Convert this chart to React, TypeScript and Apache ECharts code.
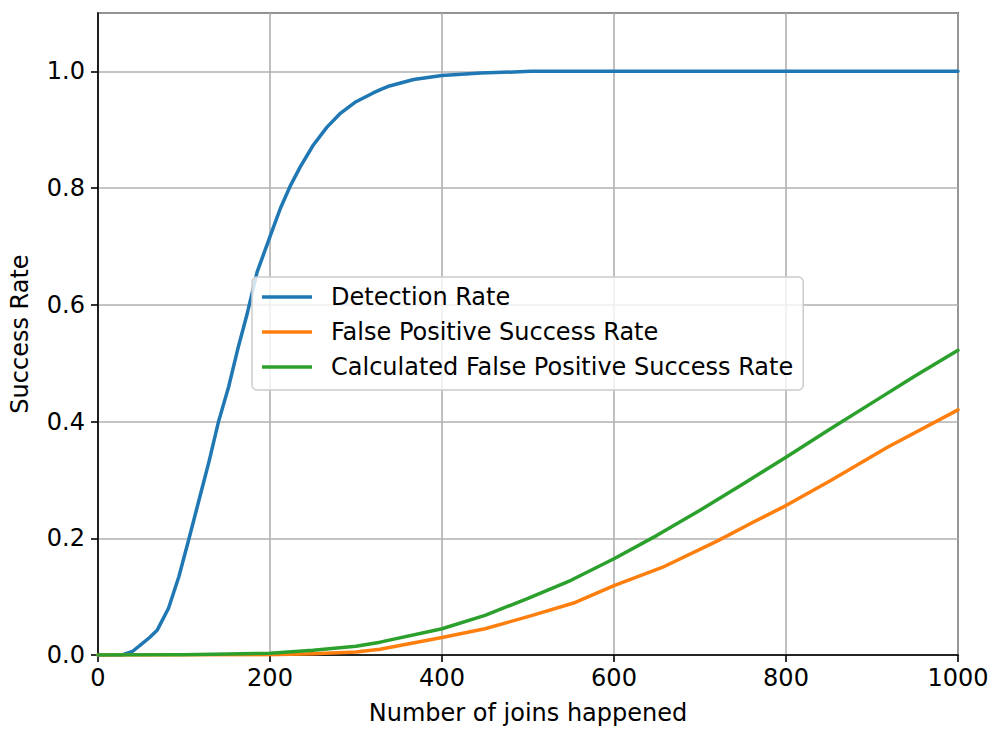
import React, { useEffect, useRef } from "react";
import * as echarts from "echarts";

const detX = [0, 28, 40, 51, 60, 69, 82, 94, 105, 117, 129, 140, 152, 163, 173, 185, 200, 212, 223, 235, 250, 266, 281, 300, 320, 329, 339, 367, 400, 445, 503, 520, 1000];
const detY = [0, 0, 0.006, 0.019, 0.03, 0.043, 0.08, 0.134, 0.195, 0.263, 0.331, 0.399, 0.46, 0.527, 0.582, 0.656, 0.717, 0.765, 0.802, 0.836, 0.873, 0.904, 0.927, 0.948, 0.963, 0.969, 0.975, 0.986, 0.993, 0.997, 1.0, 1.0, 1.0];

const fpX = [0, 200, 250, 300, 328, 400, 450, 503, 555, 600, 656, 721, 765, 800, 852, 918, 1000];
const fpY = [0, 0.0005, 0.002, 0.005, 0.01, 0.03, 0.045, 0.067, 0.09, 0.119, 0.15, 0.196, 0.23, 0.256, 0.299, 0.356, 0.42];

const calcX = [0, 100, 200, 250, 300, 328, 400, 450, 500, 550, 600, 650, 700, 750, 800, 850, 900, 950, 1000];
const calcY = [0, 0.0003, 0.003, 0.008, 0.015, 0.022, 0.045, 0.068, 0.097, 0.128, 0.165, 0.205, 0.248, 0.293, 0.339, 0.386, 0.432, 0.478, 0.522];

const seriesNames = ["Detection Rate", "False Positive Success Rate", "Calculated False Positive Success Rate"];
const colors = ["#1f77b4", "#ff7f0e", "#2ca02c"];

const zip = (xs: number[], ys: number[]) => xs.map((x, i) => [x, ys[i]]);

export default function App() {
  const ref = useRef<HTMLDivElement>(null);
  useEffect(() => {
    if (!ref.current) return;
    const chart = echarts.init(ref.current, null, { renderer: "svg" });
    const font = "DejaVu Sans";
    const fs = 24;
    const datasets = [zip(detX, detY), zip(fpX, fpY), zip(calcX, calcY)];
    chart.setOption({
      animation: false,
      backgroundColor: "#ffffff",
      textStyle: { fontFamily: font },
      grid: {
        left: 97,
        right: 34,
        top: 13,
        bottom: 76,
        show: true,
        borderColor: "#000",
        borderWidth: 1.6,
        backgroundColor: "transparent",
      },
      legend: {
        orient: "vertical",
        left: 252,
        top: 277,
        icon: "rect",
        itemWidth: 50,
        itemHeight: 3.5,
        itemGap: 11,
        padding: [8, 10, 11, 10],
        backgroundColor: "rgba(255,255,255,0.8)",
        borderColor: "#cccccc",
        borderWidth: 1.5,
        borderRadius: 5,
        textStyle: {
          fontFamily: font,
          fontSize: fs,
          color: "#000",
          lineHeight: 24,
          padding: [0, 0, 0, 14],
        },
        data: seriesNames,
      },
      xAxis: {
        type: "value",
        min: 0,
        max: 1000,
        interval: 200,
        name: "Number of joins happened",
        nameLocation: "middle",
        nameGap: 46,
        nameTextStyle: { fontFamily: font, fontSize: fs, color: "#000" },
        axisLine: { show: true, onZero: false, lineStyle: { color: "#000", width: 1.6 } },
        axisTick: { show: true, inside: false, length: 7, lineStyle: { color: "#000", width: 1.6 } },
        axisLabel: {
          fontFamily: font,
          fontSize: fs,
          color: "#000",
          margin: 11,
          formatter: (v: number) => String(v),
        },
        splitLine: { show: true, lineStyle: { color: "#b0b0b0", width: 1.6 } },
      },
      yAxis: {
        type: "value",
        min: 0,
        max: 1.1,
        interval: 0.2,
        name: "Success Rate",
        nameLocation: "middle",
        nameGap: 66,
        nameTextStyle: { fontFamily: font, fontSize: fs, color: "#000" },
        axisLine: { show: true, lineStyle: { color: "#000", width: 1.6 } },
        axisTick: { show: true, inside: false, length: 7, lineStyle: { color: "#000", width: 1.6 } },
        axisLabel: {
          fontFamily: font,
          fontSize: fs,
          color: "#000",
          margin: 13,
          showMaxLabel: false,
          formatter: (v: number) => v.toFixed(1),
        },
        splitLine: { show: true, lineStyle: { color: "#b0b0b0", width: 1.6 } },
      },
      series: seriesNames.map((name, i) => ({
        name,
        type: "line",
        data: datasets[i],
        showSymbol: false,
        symbol: "none",
        smooth: false,
        color: colors[i],
        lineStyle: { color: colors[i], width: 3.5, join: "round", cap: "round" },
        z: 2 + i,
      })),
    });
    return () => chart.dispose();
  }, []);
  return (
    <div
      ref={ref}
      style={{ position: "absolute", left: 0, top: 0, width: 992, height: 731 }}
    />
  );
}
